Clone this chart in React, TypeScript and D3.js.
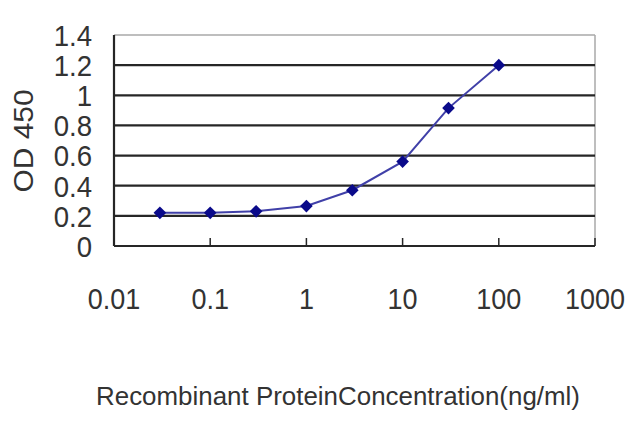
import * as d3 from 'd3';
import { useMemo } from 'react';

const concentrations = [0.03, 0.1, 0.3, 1, 3, 10, 30, 100];
const odValues = [0.22, 0.22, 0.23, 0.265, 0.37, 0.56, 0.915, 1.2];
const xTicks = [0.01, 0.1, 1, 10, 100, 1000];
const xTickLabels = ['0.01', '0.1', '1', '10', '100', '1000'];
const yTicks = [0, 0.2, 0.4, 0.6, 0.8, 1, 1.2, 1.4];
const yTickLabels = ['0', '0.2', '0.4', '0.6', '0.8', '1', '1.2', '1.4'];

const width = 640;
const height = 427;
const margin = { left: 114, right: 45, top: 35, bottom: 181 };
const font = '"Liberation Sans", Arial, sans-serif';

export default function App() {
    const { x, y, path } = useMemo(() => {
        const x = d3
            .scaleLog()
            .domain([0.01, 1000])
            .range([margin.left, width - margin.right]);
        const y = d3
            .scaleLinear()
            .domain([0, 1.4])
            .range([height - margin.bottom, margin.top]);
        const line = d3
            .line<number>()
            .x((_, i) => x(concentrations[i]))
            .y((d) => y(d));
        return { x, y, path: line(odValues) ?? '' };
    }, []);

    const x0 = x.range()[0];
    const x1 = x.range()[1];
    const yBottom = y(0);
    const yTop = y(1.4);
    // square turned 45 degrees, as wide as it is tall
    const diamond = d3.symbol().type(d3.symbolSquare).size(80)() ?? '';

    return (
        <svg
            width={width}
            height={height}
            viewBox={`0 0 ${width} ${height}`}
            style={{ position: 'absolute', left: 0, top: 0, background: '#fff' }}
        >
            {/* border on top and right */}
            <line x1={x0} x2={x1} y1={yTop} y2={yTop} stroke="#a8a8a8" strokeWidth={1.5} />
            <line x1={x1} x2={x1} y1={yTop} y2={yBottom} stroke="#a8a8a8" strokeWidth={1.5} />
            {yTicks.slice(1, -1).map((t) => (
                <line
                    key={t}
                    x1={x0}
                    x2={x1}
                    y1={y(t)}
                    y2={y(t)}
                    stroke="#262626"
                    strokeWidth={2.2}
                />
            ))}
            <line x1={x0} x2={x0} y1={yTop} y2={yBottom} stroke="#262626" strokeWidth={2.2} />
            <line x1={x0} x2={x1} y1={yBottom} y2={yBottom} stroke="#262626" strokeWidth={2.2} />
            {xTicks.map((t) => (
                <line
                    key={t}
                    x1={x(t)}
                    x2={x(t)}
                    y1={yBottom - 8}
                    y2={yBottom}
                    stroke="#262626"
                    strokeWidth={1.5}
                />
            ))}
            {yTicks.map((t, i) => (
                <text
                    key={t}
                    transform={`translate(92, ${y(t)}) scale(0.92, 1)`}
                    dy="0.36em"
                    textAnchor="end"
                    fontFamily={font}
                    fontSize={30}
                    fill="#333"
                >
                    {yTickLabels[i]}
                </text>
            ))}
            {xTicks.map((t, i) => (
                <text
                    key={t}
                    transform={`translate(${x(t)}, 298) scale(0.9, 1)`}
                    dy="0.36em"
                    textAnchor="middle"
                    fontFamily={font}
                    fontSize={30}
                    fill="#333"
                >
                    {xTickLabels[i]}
                </text>
            ))}
            <text
                transform={`translate(33, 141) rotate(-90)`}
                textAnchor="middle"
                fontFamily={font}
                fontSize={27}
                fill="#333"
                textLength={103}
                lengthAdjust="spacingAndGlyphs"
            >
                OD 450
            </text>
            <text
                x={338}
                y={405}
                textAnchor="middle"
                fontFamily={font}
                fontSize={25}
                fill="#333"
                textLength={484}
                lengthAdjust="spacingAndGlyphs"
            >
                Recombinant ProteinConcentration(ng/ml)
            </text>
            <path d={path} fill="none" stroke="#4040a8" strokeWidth={2} />
            {odValues.map((v, i) => (
                <path
                    key={i}
                    d={diamond}
                    transform={`translate(${x(concentrations[i])},${y(v)}) rotate(45)`}
                    fill="#0a0a8a"
                />
            ))}
        </svg>
    );
}
